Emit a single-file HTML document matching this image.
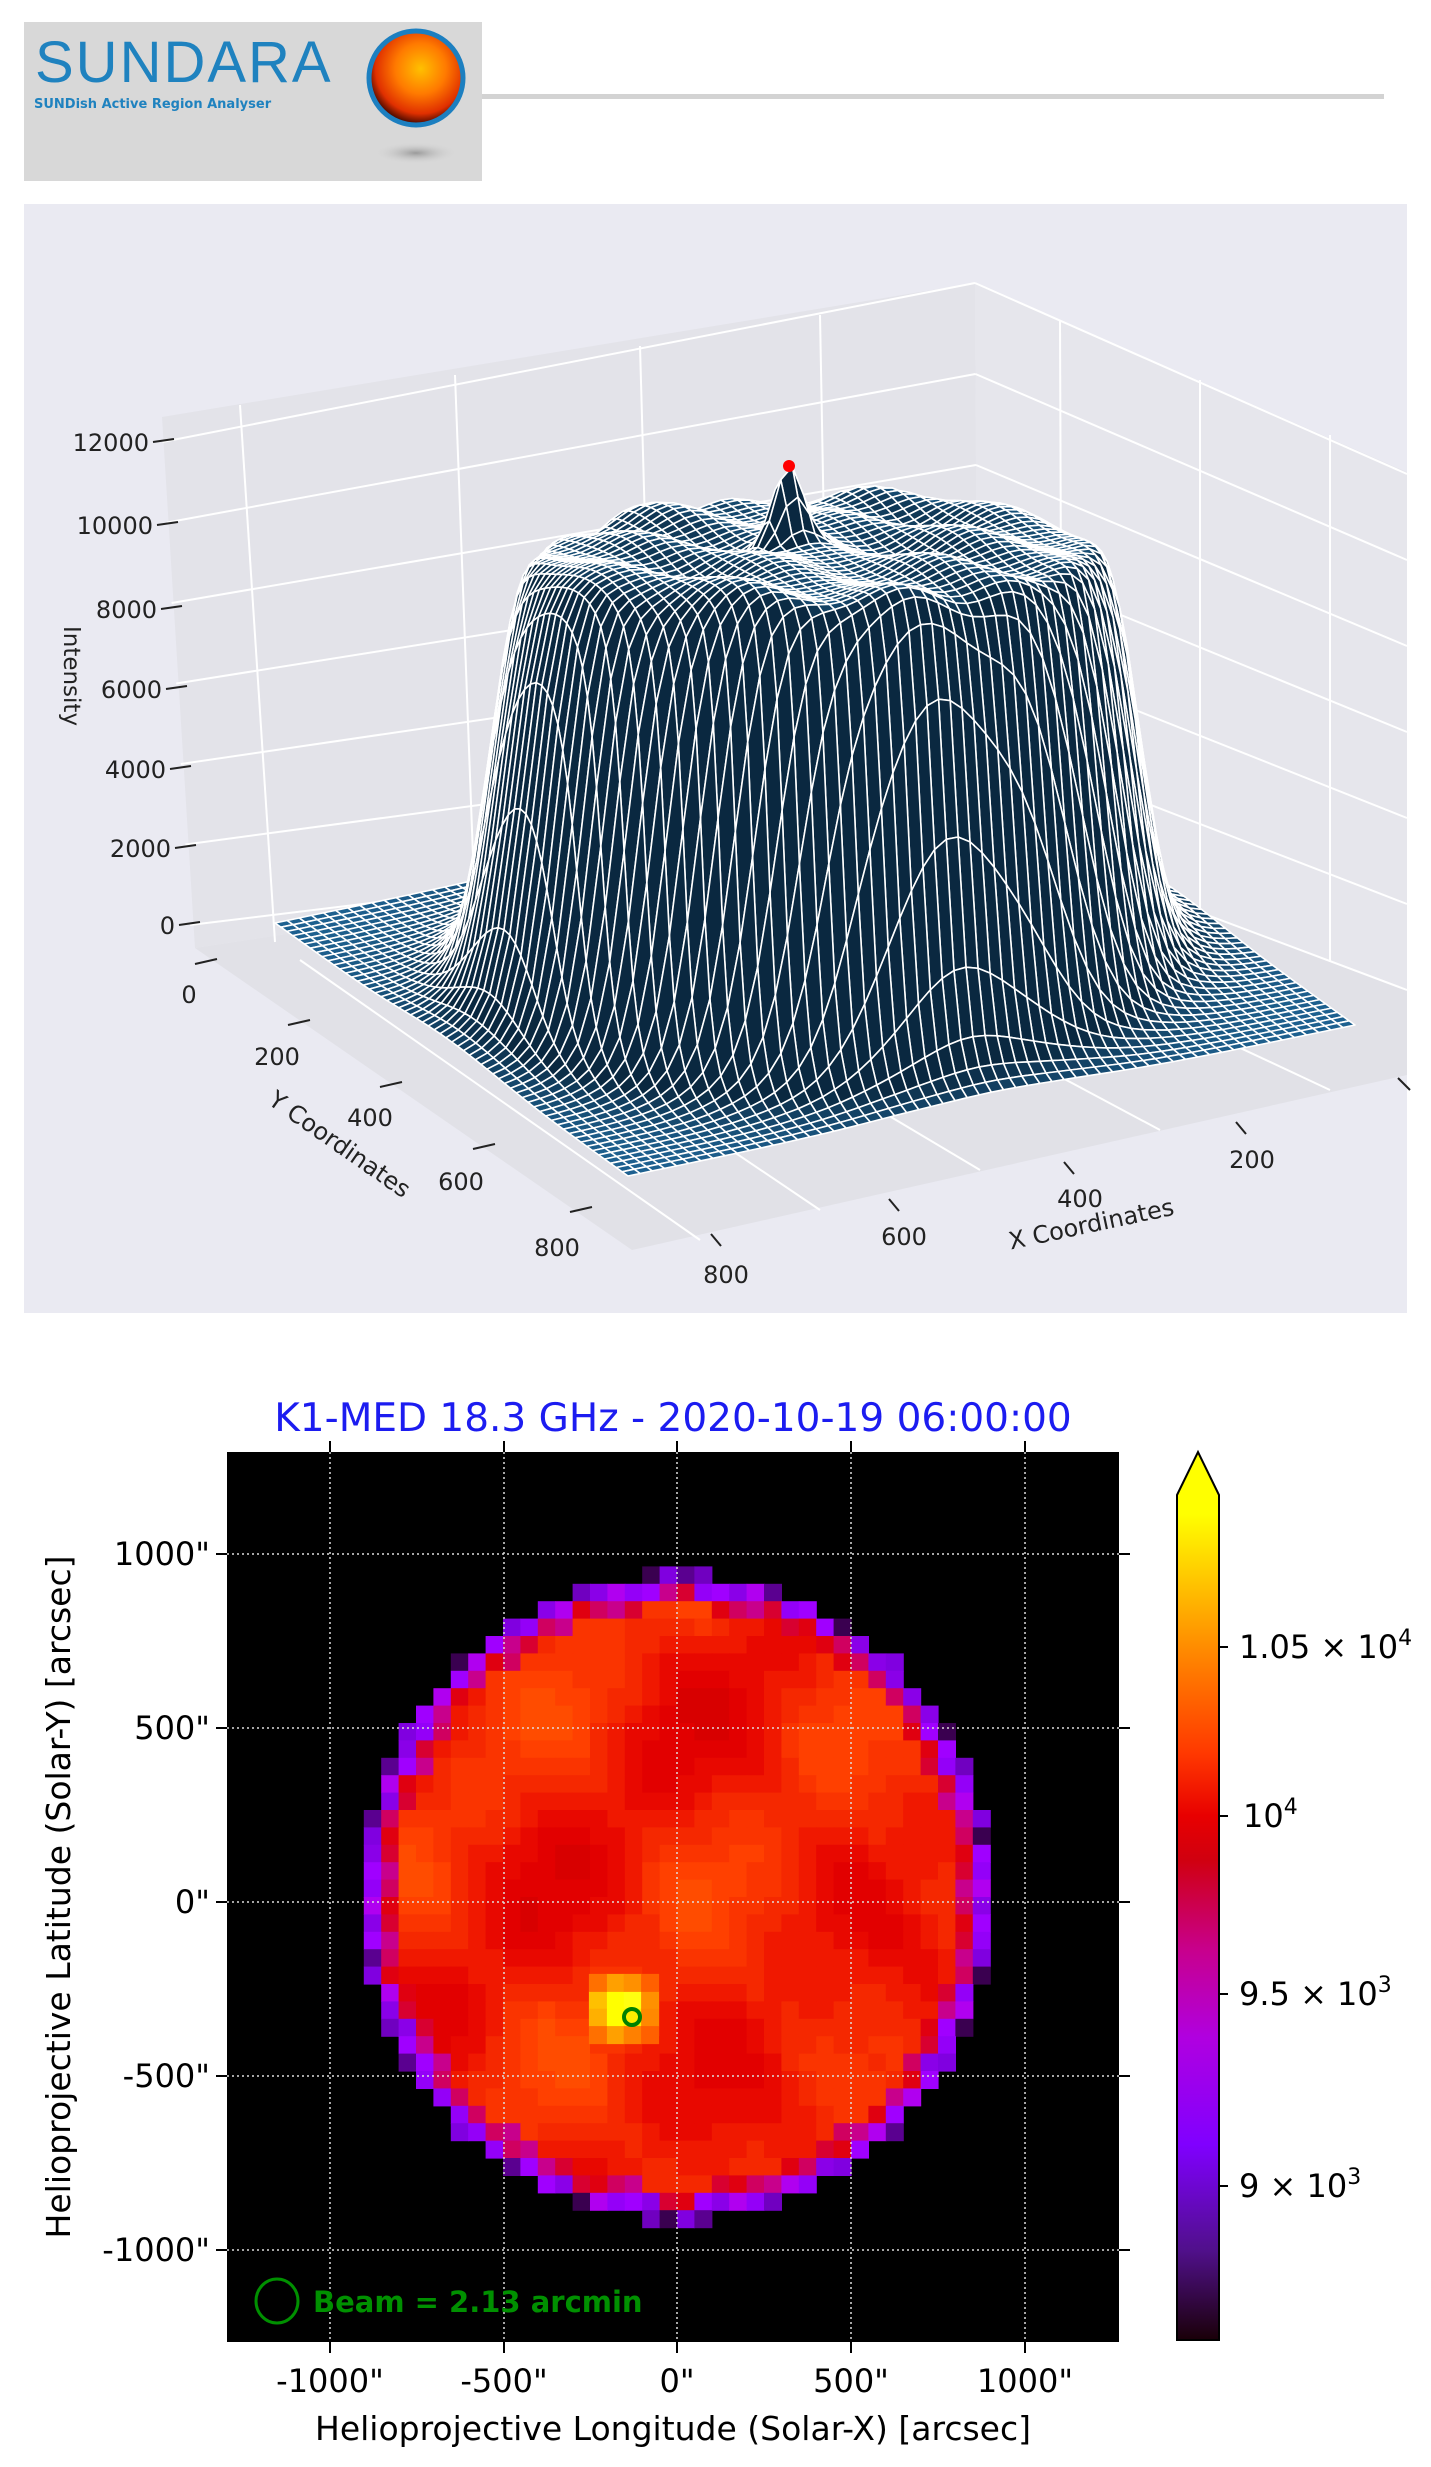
<!DOCTYPE html>
<html><head><meta charset="utf-8">
<style>
html,body{margin:0;padding:0;background:#fff;}
body{width:1431px;height:2467px;position:relative;overflow:hidden;font-family:"DejaVu Sans","Liberation Sans",sans-serif;}
svg{position:absolute;left:0;top:0;}
</style></head>
<body>
<svg id="s" width="1431" height="2467" viewBox="0 0 1431 2467" xmlns="http://www.w3.org/2000/svg">
<defs>
<radialGradient id="sunG" cx="0.55" cy="0.4" r="0.6">
<stop offset="0" stop-color="#ffc000"/><stop offset="0.45" stop-color="#ff7a00"/><stop offset="0.8" stop-color="#e03000"/><stop offset="1" stop-color="#3a0600"/>
</radialGradient>
<radialGradient id="shG"><stop offset="0" stop-color="#9a9a9a"/><stop offset="1" stop-color="#d8d8d8" stop-opacity="0"/></radialGradient>
<linearGradient id="cb" x1="0" y1="1452" x2="0" y2="2340" gradientUnits="userSpaceOnUse">
<stop offset="0" stop-color="#ffff00"/>
<stop offset="0.07" stop-color="#ffff00"/>
<stop offset="0.22" stop-color="#ff8c00"/>
<stop offset="0.34" stop-color="#ff3800"/>
<stop offset="0.41" stop-color="#e80000"/>
<stop offset="0.46" stop-color="#d00010"/>
<stop offset="0.56" stop-color="#c8008c"/>
<stop offset="0.66" stop-color="#b000e0"/>
<stop offset="0.78" stop-color="#8000ff"/>
<stop offset="0.9" stop-color="#50108a"/>
<stop offset="1" stop-color="#1a0008"/>
</linearGradient>
</defs>

<rect x="24" y="22" width="458" height="159" fill="#d8d8d8"/>
<text x="35" y="82" font-family="Liberation Sans, sans-serif" font-size="58" fill="#1f82bf" letter-spacing="2">SUNDARA</text>
<text x="34" y="108" font-family="DejaVu Sans, sans-serif" font-size="13" font-weight="bold" fill="#1f82bf">SUNDish Active Region Analyser</text>
<ellipse cx="416" cy="153" rx="42" ry="11" fill="url(#shG)"/>
<circle cx="416" cy="78" r="47" fill="url(#sunG)" stroke="#1c7fc0" stroke-width="5"/>
<rect x="482" y="94" width="902" height="5" fill="#d3d3d3"/>

<rect x="24" y="204" width="1383" height="1109" fill="#eaeaf2"/>
<polygon points="162,417 975,283 978,829 195,948" fill="#e3e3e9"/>
<polygon points="975,283 1407,472 1407,990 978,829" fill="#e6e6ec"/>
<polygon points="195,948 978,829 1407,990 1407,1075 632,1250" fill="#e1e1e7"/>
<g id="panegrid" stroke="#fff" stroke-width="2" fill="none"></g>
<g id="mesh"></g>
<circle cx="789" cy="466" r="6" fill="#ff0000"/>
<g id="ax3" font-size="24" fill="#222"></g>
<text transform="translate(64,676) rotate(90)" font-size="23" text-anchor="middle" fill="#222">Intensity</text>
<text transform="translate(335,1151) rotate(35)" font-size="24" text-anchor="middle" fill="#222">Y Coordinates</text>
<text transform="translate(1093,1232) rotate(-12)" font-size="24" text-anchor="middle" fill="#222">X Coordinates</text>

<text x="673" y="1431" font-size="39" text-anchor="middle" fill="#1c1cf0">K1-MED 18.3 GHz - 2020-10-19 06:00:00</text>
<rect x="227" y="1452" width="892" height="890" fill="#000"/>
<g id="sun"></g>
<circle cx="632" cy="2017" r="8" fill="none" stroke="#008000" stroke-width="4"/>
<g id="grid2" stroke="#ddd" stroke-width="1.5" stroke-dasharray="2,3"></g>
<ellipse cx="277" cy="2301" rx="21" ry="22" fill="none" stroke="#009000" stroke-width="3"/>
<text x="313" y="2312" font-size="29" font-weight="bold" fill="#009000">Beam = 2.13 arcmin</text>
<g id="ticks2" stroke="#000" stroke-width="2"></g>
<g id="lab2" font-size="32" fill="#000"></g>
<text x="673" y="2440" font-size="33" text-anchor="middle">Helioprojective Longitude (Solar-X) [arcsec]</text>
<text transform="translate(70,1897) rotate(-90)" font-size="33" text-anchor="middle">Helioprojective Latitude (Solar-Y) [arcsec]</text>
<polygon points="1177,1495 1198,1452 1219,1495 1219,2340 1177,2340" fill="url(#cb)" stroke="#000" stroke-width="2"/>
<g stroke="#000" stroke-width="2"><line x1="1219" y1="1647" x2="1228" y2="1647"/><line x1="1219" y1="1816" x2="1228" y2="1816"/><line x1="1219" y1="1994" x2="1228" y2="1994"/><line x1="1219" y1="2186" x2="1228" y2="2186"/></g>
<g font-size="32" fill="#000">
<text x="1239" y="1658">1.05 × 10<tspan dy="-13" font-size="22">4</tspan></text>
<text x="1243" y="1827">10<tspan dy="-13" font-size="22">4</tspan></text>
<text x="1239" y="2005">9.5 × 10<tspan dy="-13" font-size="22">3</tspan></text>
<text x="1239" y="2197">9 × 10<tspan dy="-13" font-size="22">3</tspan></text>
</g>
</svg>
<script>
(function(){
var NS="http://www.w3.org/2000/svg";
function el(p,t,a,txt){var e=document.createElementNS(NS,t);for(var k in a)e.setAttribute(k,a[k]);if(txt!=null)e.textContent=txt;p.appendChild(e);return e;}
var pg=document.getElementById('panegrid');
for(var z=0;z<=12000;z+=2000){
 var lx=190-z*0.0023, ly=925-z*0.04025, bx=978-z*0.00025, by=829-z*0.0455;
 el(pg,'line',{x1:lx,y1:ly,x2:bx,y2:by});
 var rx=1407, ry=990-z*0.043;
 el(pg,'line',{x1:bx,y1:by,x2:rx,y2:ry});
}
[[240,405,275,942],[455,375,475,910],[640,346,655,882],[820,315,830,856],[1060,320,1062,862],[1200,380,1200,915],[1330,435,1330,962]].forEach(function(l){el(pg,'line',{x1:l[0],y1:l[1],x2:l[2],y2:l[3]});});
[[300,960,700,1240],[420,940,820,1210],[560,920,980,1170],[720,895,1160,1130],[860,870,1330,1090]].forEach(function(l){el(pg,'line',{x1:l[0],y1:l[1],x2:l[2],y2:l[3]});});
var ax=document.getElementById('ax3');
var zt=[[12000,442,153],[10000,525,157],[8000,609,161],[6000,689,166],[4000,769,170],[2000,848,175],[0,925,179]];
zt.forEach(function(t){el(ax,'line',{x1:t[2],y1:t[1],x2:t[2]+21,y2:t[1]-3,stroke:'#222','stroke-width':2});el(ax,'text',{x:t[2]-4,y:t[1]+9,'text-anchor':'end'},String(t[0]));});
[[0,189,1003,205,960],[200,277,1065,298,1021],[400,370,1126,390,1083],[600,461,1190,483,1145],[800,557,1256,580,1208]].forEach(function(t){el(ax,'text',{x:t[1],y:t[2],'text-anchor':'middle'},String(t[0]));el(ax,'line',{x1:t[3]-10,y1:t[4]+4,x2:t[3]+12,y2:t[4]-1,stroke:'#222','stroke-width':2});});
[[800,726,1283,715,1240],[600,904,1245,893,1205],[400,1080,1207,1068,1168],[200,1252,1168,1240,1128]].forEach(function(t){el(ax,'text',{x:t[1],y:t[2],'text-anchor':'middle'},String(t[0]));el(ax,'line',{x1:t[3]-4,y1:t[4]-6,x2:t[3]+6,y2:t[4]+6,stroke:'#222','stroke-width':2});});
el(ax,'line',{x1:1398,y1:1078,x2:1410,y2:1090,stroke:'#222','stroke-width':2});
var N=60, Bx=1002,By=772, EXx=-727,EXy=151, EYx=353,EYy=253, k=0.0392;
function h(a,b){
 var r=Math.sqrt((a-0.5)*(a-0.5)+(b-0.5)*(b-0.5));
 var base=10000/(1+Math.exp((r-0.415)/0.013));
 base+=900/(1+Math.exp((r-0.455)/0.03));
 var n=220*Math.sin(a*23+1)*Math.cos(b*19+2)+150*Math.sin(a*41+b*13);
 base+=n*Math.min(1,base/9000);
 base+=1950*Math.exp(-((a-0.522)*(a-0.522)+(b-0.463)*(b-0.463))/(2*0.02*0.02));
 return Math.max(0,base);
}
var cx=Bx+0.5*EXx+0.5*EYx, cy=By+0.5*EXy+0.5*EYy;
var P=[],H=[];
for(var i=0;i<=N;i++){P[i]=[];H[i]=[];for(var j=0;j<=N;j++){
 var a=i/N,b=j/N,z=h(a,b);H[i][j]=z;
 var x=Bx+a*EXx+b*EYx, y=By+a*EXy+b*EYy;
 var f=Math.min(1,z/10000);
 var sx=cx+(x-cx)*(1-0.05*f), sy=cy+(y-cy)*(1-0.5*f)-z*k;
 P[i][j]=[sx,sy];
}}
var cells=[];
for(var i=0;i<N;i++)for(var j=0;j<N;j++)cells.push([i,j]);
cells.sort(function(p,q){return (p[0]+p[1])-(q[0]+q[1]);});
function mix(c1,c2,t){var r='#';for(var q=0;q<3;q++){var v=Math.round(c1[q]+(c2[q]-c1[q])*t);r+=(v<16?'0':'')+v.toString(16);}return r;}
var light=[30,98,146], dark=[10,40,64];
var mesh=document.getElementById('mesh');
var html='';
cells.forEach(function(c){
 var i=c[0],j=c[1];
 var g=Math.abs(H[i+1][j]-H[i][j])+Math.abs(H[i][j+1]-H[i][j])+Math.abs(H[i+1][j+1]-H[i][j]);
 var t=Math.min(1,g/700);
 var col=mix(light,dark,Math.pow(t,0.5));
 var p1=P[i][j],p2=P[i+1][j],p3=P[i+1][j+1],p4=P[i][j+1];
 html+='<path d="M'+p1[0].toFixed(1)+' '+p1[1].toFixed(1)+'L'+p2[0].toFixed(1)+' '+p2[1].toFixed(1)+'L'+p3[0].toFixed(1)+' '+p3[1].toFixed(1)+'L'+p4[0].toFixed(1)+' '+p4[1].toFixed(1)+'Z" fill="'+col+'"/>';
});
mesh.setAttribute('stroke','#fff');mesh.setAttribute('stroke-width','1.6');mesh.setAttribute('stroke-linejoin','round');
mesh.innerHTML=html;
var sun=document.getElementById('sun'); var s='';
var cs=17.4, X0=677, Y0=1897, R=312;
var reds=['#d80000','#e20000','#e80800','#f01800','#f52800','#fa3400','#ff4000','#ff4c00'];
for(var gy=-20;gy<20;gy++)for(var gx=-20;gx<20;gx++){
 var px=X0+gx*cs, py=Y0+gy*cs, mx=px+cs/2-X0, my=(py+cs/2-Y0)*0.975;
 var r=Math.sqrt(mx*mx+my*my);
 if(r>R+4)continue;
 var col;
 if(r>R-14){var q=(gx*7+gy*13+400)&3; col=['#a000ff','#9400f8','#b000f0','#8a00e8'][q]; if(r>R-2) col=['#7000c0','#5a0090','#8000e0','#3a0050'][q];}
 else if(r>R-30){col=['#d00060','#c8008c','#d80030','#e00010'][(gx*5+gy*3+400)&3];}
 else{
  var n=Math.sin(gx*0.38+1.3)*Math.cos(gy*0.33+0.4)+0.5*Math.sin((gx+gy)*0.27+0.8)+0.25*Math.cos(gx*0.9-gy*0.7);
  var idx=Math.floor((n+1.75)/3.5*8); idx=Math.max(0,Math.min(7,idx)); col=reds[idx];
 }
 s+='<rect x="'+px.toFixed(1)+'" y="'+py.toFixed(1)+'" width="'+(cs+0.6)+'" height="'+(cs+0.6)+'" fill="'+col+'"/>';
}
var hs=[[0,0,'#ffff00'],[1,0,'#ffff10'],[0,1,'#ffff00'],[1,1,'#ffee00'],[-1,0,'#ffc000'],[2,0,'#ff9000'],[-1,1,'#ffb000'],[2,1,'#ff8800'],[0,-1,'#ffa000'],[1,-1,'#ff9000'],[0,2,'#ffa000'],[1,2,'#ff8000'],[-1,-1,'#ff7000'],[2,-1,'#ff6000'],[-1,2,'#ff7000'],[2,2,'#ff6000']];
hs.forEach(function(h){var px=615+h[0]*cs-cs/2, py=2000+h[1]*cs-cs/2; s+='<rect x="'+px.toFixed(1)+'" y="'+py.toFixed(1)+'" width="'+(cs+0.6)+'" height="'+(cs+0.6)+'" fill="'+h[2]+'"/>';});
sun.innerHTML=s;
var g2=document.getElementById('grid2'), t2=document.getElementById('ticks2'), l2=document.getElementById('lab2');
var xs=[[330,'-1000"'],[504,'-500"'],[677,'0"'],[851,'500"'],[1025,'1000"']];
var ys=[[1554,'1000"'],[1728,'500"'],[1902,'0"'],[2076,'-500"'],[2250,'-1000"']];
xs.forEach(function(v){el(g2,'line',{x1:v[0],y1:1452,x2:v[0],y2:2342});el(t2,'line',{x1:v[0],y1:2342,x2:v[0],y2:2353});el(t2,'line',{x1:v[0],y1:1452,x2:v[0],y2:1441});el(l2,'text',{x:v[0],y:2392,'text-anchor':'middle'},v[1]);});
ys.forEach(function(v){el(g2,'line',{x1:227,y1:v[0],x2:1119,y2:v[0]});el(t2,'line',{x1:227,y1:v[0],x2:216,y2:v[0]});el(t2,'line',{x1:1119,y1:v[0],x2:1130,y2:v[0]});el(l2,'text',{x:210,y:v[0]+11,'text-anchor':'end'},v[1]);});
})();
</script>
</body></html>
